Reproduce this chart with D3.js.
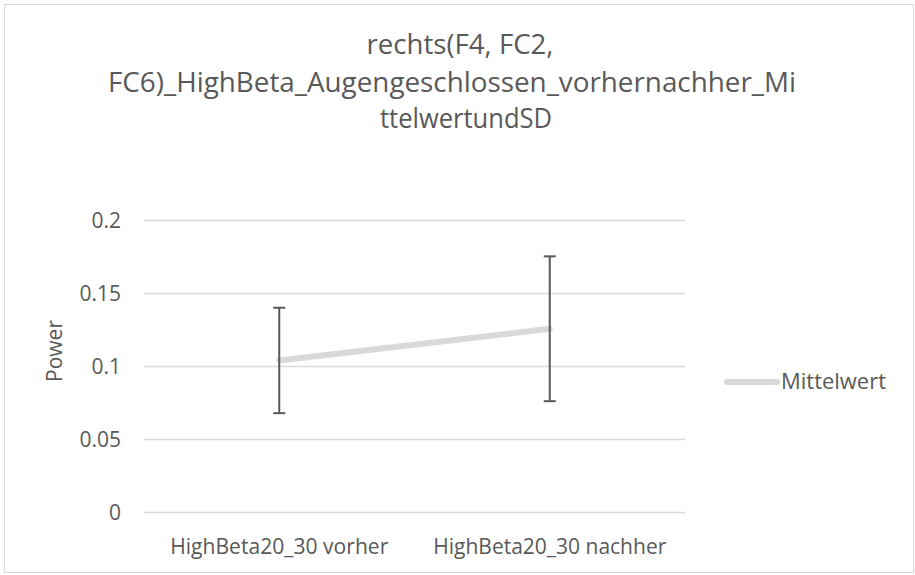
<!DOCTYPE html>
<html>
<head>
<meta charset="utf-8">
<script src="https://cdn.jsdelivr.net/npm/d3@7"></script>
<style>
  html, body { margin: 0; padding: 0; background: #fff; }
  svg { display: block; font-family: "Open Sans", "Noto Sans", sans-serif; }
</style>
</head>
<body>
<svg id="chart" width="915" height="575"></svg>
<script>
// Mean power per condition with standard deviation
const categories = ["HighBeta20_30 vorher", "HighBeta20_30 nachher"];
const meanValues = [0.1038, 0.1255];
const sdValues = [0.0361, 0.0496];
const yTicks = [0, 0.05, 0.1, 0.15, 0.2];
const titleLines = ["rechts(F4, FC2,", "FC6)_HighBeta_Augengeschlossen_vorhernachher_Mi", "ttelwertundSD"];
const seriesName = "Mittelwert";
const yAxisTitle = "Power";

const svg = d3.select("#chart");
const textColor = "#595959";
const gridColor = "#d9d9d9";

// chart frame
svg.append("rect")
  .attr("x", 4.5).attr("y", 4.5)
  .attr("width", 909).attr("height", 568)
  .attr("fill", "#fff").attr("stroke", gridColor).attr("stroke-width", 1);

// title, wrapped over three lines
const titleWidths = [187, 688, 172];
const titleCenters = [460, 452, 466];
const titleBase = [54, 92, 128];
svg.append("g").selectAll("text").data(titleLines).join("text")
  .attr("x", (d, i) => titleCenters[i]).attr("y", (d, i) => titleBase[i])
  .attr("text-anchor", "middle")
  .attr("fill", textColor)
  .attr("font-size", 27)
  .attr("textLength", (d, i) => titleWidths[i])
  .attr("lengthAdjust", "spacingAndGlyphs")
  .text(d => d);

const plot = { left: 144, right: 685, top: 220, bottom: 512 };

const x = d3.scaleBand().domain(categories).range([plot.left, plot.right]);
const y = d3.scaleLinear().domain([0, 0.2]).range([plot.bottom, plot.top]);

// gridlines
svg.append("g").selectAll("line").data(yTicks).join("line")
  .attr("x1", plot.left).attr("x2", plot.right)
  .attr("y1", d => Math.round(y(d)) + 0.5).attr("y2", d => Math.round(y(d)) + 0.5)
  .attr("stroke", gridColor).attr("stroke-width", 1.5);

// y axis labels
const yAxis = d3.axisLeft(y).tickValues(yTicks).tickSize(0).tickPadding(0)
  .tickFormat(d => d3.format("")(+d.toFixed(2)));
const yg = svg.append("g").attr("transform", `translate(121,0)`).call(yAxis);
yg.select(".domain").remove();
yg.selectAll("text").attr("fill", textColor).attr("font-size", 21)
  .attr("font-family", "'Open Sans', sans-serif").attr("dy", "0.36em");

// x axis labels
const xAxis = d3.axisBottom(x).tickSize(0).tickPadding(0);
const xg = svg.append("g").attr("transform", `translate(0,${plot.bottom})`).call(xAxis);
xg.select(".domain").remove();
xg.selectAll("text").attr("fill", textColor).attr("font-size", 21)
  .attr("font-family", "'Open Sans', sans-serif")
  .attr("y", 42).attr("dy", 0)
  .attr("textLength", 218).attr("lengthAdjust", "spacingAndGlyphs");
xg.selectAll(".tick").filter(d => d === categories[1]).select("text")
  .attr("textLength", 233);

// y axis title
svg.append("text")
  .attr("transform", "rotate(-90)")
  .attr("x", -351).attr("y", 62)
  .attr("text-anchor", "middle")
  .attr("fill", textColor).attr("font-size", 21)
  .text(yAxisTitle);

const cx = d => x(d) + x.bandwidth() / 2;
const points = categories.map((c, i) => ({ c, m: meanValues[i], sd: sdValues[i] }));

// mean line
svg.append("path")
  .datum(points)
  .attr("d", d3.line().x(d => cx(d.c)).y(d => y(d.m)))
  .attr("fill", "none").attr("stroke", gridColor)
  .attr("stroke-width", 6).attr("stroke-linecap", "round");

// error bars (mean ± SD)
const eb = svg.append("g").attr("stroke", textColor).attr("stroke-width", 2);
eb.selectAll("line.v").data(points).join("line").attr("class", "v")
  .attr("x1", d => cx(d.c)).attr("x2", d => cx(d.c))
  .attr("y1", d => y(d.m + d.sd)).attr("y2", d => y(d.m - d.sd));
eb.selectAll("line.t").data(points).join("line").attr("class", "t")
  .attr("x1", d => cx(d.c) - 6).attr("x2", d => cx(d.c) + 6)
  .attr("y1", d => y(d.m + d.sd)).attr("y2", d => y(d.m + d.sd));
eb.selectAll("line.b").data(points).join("line").attr("class", "b")
  .attr("x1", d => cx(d.c) - 6).attr("x2", d => cx(d.c) + 6)
  .attr("y1", d => y(d.m - d.sd)).attr("y2", d => y(d.m - d.sd));

// legend
const lg = svg.append("g");
lg.append("line")
  .attr("x1", 727).attr("x2", 777).attr("y1", 382).attr("y2", 382)
  .attr("stroke", gridColor).attr("stroke-width", 6).attr("stroke-linecap", "round");
lg.append("text")
  .attr("x", 781).attr("y", 389)
  .attr("fill", textColor).attr("font-size", 21)
  .attr("textLength", 105).attr("lengthAdjust", "spacingAndGlyphs")
  .text(seriesName);
</script>
</body>
</html>
